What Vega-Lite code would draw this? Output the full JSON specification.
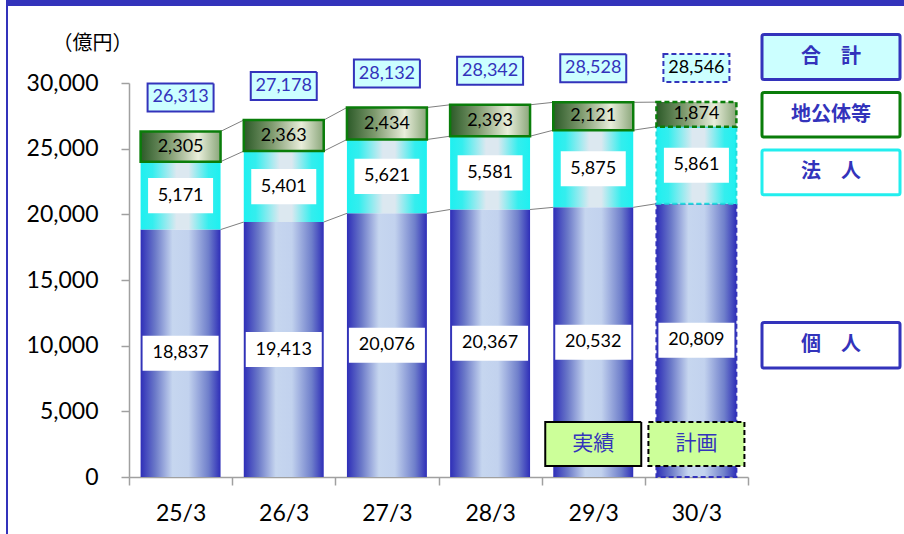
{
  "$schema": "https://vega.github.io/schema/vega-lite/v6.json",
  "padding": {"left": 6, "top": 0, "right": 0, "bottom": 0},
  "background": "white",
  "config": {
    "view": {"stroke": null},
    "font": "Lato",
    "axis": {"grid": false}
  },
  "datasets": {
    "main": [
      {"year": "25/3", "series": "個人", "order": 1, "value": 18837},
      {"year": "25/3", "series": "法人", "order": 2, "value": 5171},
      {"year": "25/3", "series": "地公体等", "order": 3, "value": 2305},
      {"year": "26/3", "series": "個人", "order": 1, "value": 19413},
      {"year": "26/3", "series": "法人", "order": 2, "value": 5401},
      {"year": "26/3", "series": "地公体等", "order": 3, "value": 2363},
      {"year": "27/3", "series": "個人", "order": 1, "value": 20076},
      {"year": "27/3", "series": "法人", "order": 2, "value": 5621},
      {"year": "27/3", "series": "地公体等", "order": 3, "value": 2434},
      {"year": "28/3", "series": "個人", "order": 1, "value": 20367},
      {"year": "28/3", "series": "法人", "order": 2, "value": 5581},
      {"year": "28/3", "series": "地公体等", "order": 3, "value": 2393},
      {"year": "29/3", "series": "個人", "order": 1, "value": 20532},
      {"year": "29/3", "series": "法人", "order": 2, "value": 5875},
      {"year": "29/3", "series": "地公体等", "order": 3, "value": 2121},
      {"year": "30/3", "series": "個人", "order": 1, "value": 20809},
      {"year": "30/3", "series": "法人", "order": 2, "value": 5861},
      {"year": "30/3", "series": "地公体等", "order": 3, "value": 1874}
    ],
    "total": [
      {"year": "25/3", "total": 26313},
      {"year": "26/3", "total": 27178},
      {"year": "27/3", "total": 28132},
      {"year": "28/3", "total": 28342},
      {"year": "29/3", "total": 28528},
      {"year": "30/3", "total": 28546}
    ],
    "note": [
      {"year": "29/3", "label": "実績"},
      {"year": "30/3", "label": "計画"}
    ]
  },
  "vconcat": [
    {
      "width": 898, "height": 6,
      "data": {"values": [{}]},
      "mark": {"type": "rect", "color": "#3333bb"}
    },
    {
      "hconcat": [
        {
          "width": 2, "height": 528,
          "data": {"values": [{}]},
          "mark": {"type": "rect", "color": "#3333bb"}
        },
        {
          "vconcat": [
            {
              "width": 772, "height": 77,
              "data": {"values": []},
              "mark": "point"
            },
            {
              "hconcat": [
                {
                  "width": 619, "height": 394,
                  "layer": [
                    {
                      "data": {"name": "main"},
                      "transform": [
                        {"stack": "value", "groupby": ["year"], "sort": [{"field": "order", "order": "ascending"}], "as": ["y0", "y1"]},
                        {"window": [{"op": "lead", "field": "y1", "as": "ny"}, {"op": "lead", "field": "year", "as": "nyear"}], "groupby": ["series"], "sort": [{"field": "year", "order": "ascending"}]},
                        {"filter": "datum.nyear != null"}
                      ],
                      "mark": {"type": "rule", "color": "#7f7f7f", "strokeWidth": 1},
                      "encoding": {
                        "x": {"field": "year", "type": "ordinal", "bandPosition": 0.8875,
                          "scale": {"domain": ["25/3", "26/3", "27/3", "28/3", "29/3", "30/3"], "paddingInner": 0, "paddingOuter": 0},
                          "axis": {"title": null, "labelAngle": 0, "tickBand": "extent", "labelFontSize": 23, "labelFont": "Lato", "labelColor": "#000000", "labelPadding": 17, "tickSize": 8, "tickColor": "#a0a0a0", "domainColor": "#a0a0a0", "tickWidth": 1.5, "domainWidth": 1.5}},
                        "x2": {"field": "nyear", "bandPosition": 0.1125},
                        "y": {"field": "y1", "type": "quantitative",
                          "scale": {"domain": [0, 30000], "nice": false},
                          "axis": {"values": [0, 5000, 10000, 15000, 20000, 25000, 30000], "format": ",d", "title": "（億円）", "titleAngle": 0, "titleX": -37, "titleY": -40, "titleAlign": "center", "titleBaseline": "middle", "titleFont": "Noto Sans CJK JP", "titleFontSize": 20, "titleFontWeight": "normal", "titleColor": "#000000", "labelFont": "Lato", "labelFontSize": 23, "labelColor": "#000000", "labelPadding": 23, "tickSize": 8, "tickColor": "#a0a0a0", "domainColor": "#a0a0a0", "tickWidth": 1.5, "domainWidth": 1.5}},
                        "y2": {"field": "ny"}
                      }
                    },
                    {
                      "data": {"name": "main"},
                      "transform": [
                        {"stack": "value", "groupby": ["year"], "sort": [{"field": "order", "order": "ascending"}], "as": ["y0", "y1"]},
                        {"filter": "datum.series == '個人'"}
                      ],
                      "mark": {"type": "bar", "width": {"band": 0.775}, "strokeWidth": 2,
                        "fill": {"gradient": "linear", "x1": 0, "x2": 1, "y1": 0, "y2": 0,
                          "stops": [{"offset": 0, "color": "#2e2eb8"}, {"offset": 0.18, "color": "#6a78c8"}, {"offset": 0.4, "color": "#c6d6ef"}, {"offset": 0.6, "color": "#c2d2ee"}, {"offset": 0.85, "color": "#6f7fcb"}, {"offset": 1, "color": "#2e2eb8"}]}},
                      "encoding": {
                        "x": {"field": "year", "type": "ordinal"},
                        "y": {"field": "y0", "type": "quantitative"},
                        "y2": {"field": "y1"},
                        "stroke": {"condition": {"test": "datum.year == '30/3'", "value": "#3333bb"}, "value": "transparent"},
                        "strokeDash": {"condition": {"test": "datum.year == '30/3'", "value": [5, 3]}, "value": [1, 0]}
                      }
                    },
                    {
                      "data": {"name": "main"},
                      "transform": [
                        {"stack": "value", "groupby": ["year"], "sort": [{"field": "order", "order": "ascending"}], "as": ["y0", "y1"]},
                        {"filter": "datum.series == '法人'"}
                      ],
                      "mark": {"type": "bar", "width": {"band": 0.775}, "strokeWidth": 2,
                        "fill": {"gradient": "linear", "x1": 0, "x2": 1, "y1": 0, "y2": 0,
                          "stops": [{"offset": 0, "color": "#1ef0f0"}, {"offset": 0.15, "color": "#34eeee"}, {"offset": 0.45, "color": "#dce8f0"}, {"offset": 0.6, "color": "#dce8f0"}, {"offset": 0.85, "color": "#34eeee"}, {"offset": 1, "color": "#1ef0f0"}]}},
                      "encoding": {
                        "x": {"field": "year", "type": "ordinal"},
                        "y": {"field": "y0", "type": "quantitative"},
                        "y2": {"field": "y1"},
                        "stroke": {"condition": {"test": "datum.year == '30/3'", "value": "#22dddd"}, "value": "transparent"},
                        "strokeDash": {"condition": {"test": "datum.year == '30/3'", "value": [5, 3]}, "value": [1, 0]}
                      }
                    },
                    {
                      "data": {"name": "main"},
                      "transform": [
                        {"stack": "value", "groupby": ["year"], "sort": [{"field": "order", "order": "ascending"}], "as": ["y0", "y1"]},
                        {"filter": "datum.series == '地公体等'"}
                      ],
                      "mark": {"type": "bar", "width": {"band": 0.775}, "strokeWidth": 2.5, "stroke": "#0a7d0a",
                        "fill": {"gradient": "linear", "x1": 0, "x2": 1, "y1": 0, "y2": 0,
                          "stops": [{"offset": 0, "color": "#2c5a28"}, {"offset": 0.35, "color": "#7e9a6e"}, {"offset": 0.72, "color": "#e9eedb"}, {"offset": 1, "color": "#8aa67a"}]}},
                      "encoding": {
                        "x": {"field": "year", "type": "ordinal"},
                        "y": {"field": "y0", "type": "quantitative"},
                        "y2": {"field": "y1"},
                        "strokeDash": {"condition": {"test": "datum.year == '30/3'", "value": [5, 3]}, "value": [1, 0]}
                      }
                    },
                    {
                      "data": {"name": "main"},
                      "transform": [
                        {"stack": "value", "groupby": ["year"], "sort": [{"field": "order", "order": "ascending"}], "as": ["y0", "y1"]},
                        {"fold": ["y0", "y1"], "as": ["k", "v"]},
                        {"aggregate": [{"op": "mean", "field": "v", "as": "mid"}], "groupby": ["year", "series", "value"]},
                        {"filter": "datum.series != '地公体等'"}
                      ],
                      "mark": {"type": "point", "filled": true, "fill": "#ffffff", "opacity": 1, "strokeWidth": 0},
                      "encoding": {
                        "x": {"field": "year", "type": "ordinal"},
                        "y": {"field": "mid", "type": "quantitative"},
                        "shape": {"condition": {"test": "datum.series == '個人'", "value": "M-1,-0.46H1V0.46H-1Z"}, "value": "M-1,-0.54H1V0.54H-1Z"},
                        "size": {"condition": {"test": "datum.series == '個人'", "value": 5776}, "value": 4225}
                      }
                    },
                    {
                      "data": {"name": "main"},
                      "transform": [
                        {"stack": "value", "groupby": ["year"], "sort": [{"field": "order", "order": "ascending"}], "as": ["y0", "y1"]},
                        {"fold": ["y0", "y1"], "as": ["k", "v"]},
                        {"aggregate": [{"op": "mean", "field": "v", "as": "mid"}], "groupby": ["year", "series", "value"]}
                      ],
                      "mark": {"type": "text", "font": "Lato", "fontSize": 18, "color": "#000000", "baseline": "middle", "align": "center"},
                      "encoding": {
                        "x": {"field": "year", "type": "ordinal"},
                        "y": {"field": "mid", "type": "quantitative"},
                        "text": {"field": "value", "type": "quantitative", "format": ",d"}
                      }
                    },
                    {
                      "data": {"name": "total"},
                      "mark": {"type": "point", "filled": true, "fill": "#ccffff", "opacity": 1, "stroke": "#3333bb", "strokeWidth": 2, "yOffset": -34, "shape": "M-1,-0.424H1V0.424H-1Z", "size": 4356},
                      "encoding": {
                        "x": {"field": "year", "type": "ordinal"},
                        "y": {"field": "total", "type": "quantitative"},
                        "strokeDash": {"condition": {"test": "datum.year == '30/3'", "value": [5, 3]}, "value": [1, 0]}
                      }
                    },
                    {
                      "data": {"name": "total"},
                      "mark": {"type": "text", "font": "Lato", "fontSize": 18, "baseline": "middle", "align": "center", "yOffset": -34},
                      "encoding": {
                        "x": {"field": "year", "type": "ordinal"},
                        "y": {"field": "total", "type": "quantitative"},
                        "text": {"field": "total", "type": "quantitative", "format": ",d"},
                        "color": {"condition": {"test": "datum.year == '30/3'", "value": "#000000"}, "value": "#3333bb"}
                      }
                    },
                    {
                      "data": {"name": "note"},
                      "mark": {"type": "point", "filled": true, "fill": "#ccff99", "opacity": 1, "stroke": "#000000", "strokeWidth": 2, "shape": "M-1,-0.458H1V0.458H-1Z", "size": 9216},
                      "encoding": {
                        "x": {"field": "year", "type": "ordinal"},
                        "y": {"datum": 2505, "type": "quantitative"},
                        "strokeDash": {"condition": {"test": "datum.label == '計画'", "value": [5, 3]}, "value": [1, 0]}
                      }
                    },
                    {
                      "data": {"name": "note"},
                      "mark": {"type": "text", "font": "Noto Sans CJK JP", "fontSize": 21, "color": "#3333bb", "baseline": "middle", "align": "center"},
                      "encoding": {
                        "x": {"field": "year", "type": "ordinal"},
                        "y": {"datum": 2505, "type": "quantitative"},
                        "text": {"field": "label"}
                      }
                    }
                  ]
                },
                {
                  "width": 138, "height": 394,
                  "layer": [
                    {
                      "data": {"values": [{"label": "合　計"}]},
                      "mark": {"type": "rect", "fill": "#ccffff", "stroke": "#3333bb", "strokeWidth": 3, "cornerRadius": 2},
                      "encoding": {
                        "y": {"datum": 33692, "type": "quantitative", "scale": {"domain": [0, 30000], "nice": false}, "axis": null},
                        "y2": {"datum": 30266}
                      }
                    },
                    {
                      "data": {"values": [{"label": "地公体等"}]},
                      "mark": {"type": "rect", "fill": "#ffffff", "stroke": "#0a7d0a", "strokeWidth": 3, "cornerRadius": 2},
                      "encoding": {
                        "y": {"datum": 29277, "type": "quantitative", "axis": null},
                        "y2": {"datum": 25880}
                      }
                    },
                    {
                      "data": {"values": [{"label": "法　人"}]},
                      "mark": {"type": "rect", "fill": "#ffffff", "stroke": "#22eeee", "strokeWidth": 3, "cornerRadius": 2},
                      "encoding": {
                        "y": {"datum": 24890, "type": "quantitative", "axis": null},
                        "y2": {"datum": 21487}
                      }
                    },
                    {
                      "data": {"values": [{"label": "個　人"}]},
                      "mark": {"type": "rect", "fill": "#ffffff", "stroke": "#3333bb", "strokeWidth": 3, "cornerRadius": 2},
                      "encoding": {
                        "y": {"datum": 11764, "type": "quantitative", "axis": null},
                        "y2": {"datum": 8292}
                      }
                    },
                    {
                      "data": {"values": [{"label": "合　計"}]},
                      "mark": {"type": "text", "font": "Noto Sans CJK JP", "fontSize": 20, "fontWeight": "bold", "color": "#3333bb", "baseline": "middle", "align": "center"},
                      "encoding": {"y": {"datum": 31980, "type": "quantitative", "axis": null}, "text": {"field": "label"}}
                    },
                    {
                      "data": {"values": [{"label": "地公体等"}]},
                      "mark": {"type": "text", "font": "Noto Sans CJK JP", "fontSize": 20, "fontWeight": "bold", "color": "#3333bb", "baseline": "middle", "align": "center"},
                      "encoding": {"y": {"datum": 27580, "type": "quantitative", "axis": null}, "text": {"field": "label"}}
                    },
                    {
                      "data": {"values": [{"label": "法　人"}]},
                      "mark": {"type": "text", "font": "Noto Sans CJK JP", "fontSize": 20, "fontWeight": "bold", "color": "#3333bb", "baseline": "middle", "align": "center"},
                      "encoding": {"y": {"datum": 23200, "type": "quantitative", "axis": null}, "text": {"field": "label"}}
                    },
                    {
                      "data": {"values": [{"label": "個　人"}]},
                      "mark": {"type": "text", "font": "Noto Sans CJK JP", "fontSize": 20, "fontWeight": "bold", "color": "#3333bb", "baseline": "middle", "align": "center"},
                      "encoding": {"y": {"datum": 10030, "type": "quantitative", "axis": null}, "text": {"field": "label"}}
                    }
                  ]
                }
              ],
              "spacing": 14,
              "bounds": "flush"
            }
          ],
          "spacing": 0,
          "bounds": "flush"
        }
      ],
      "spacing": 121,
      "bounds": "flush"
    }
  ],
  "spacing": 0,
  "bounds": "flush"
}
